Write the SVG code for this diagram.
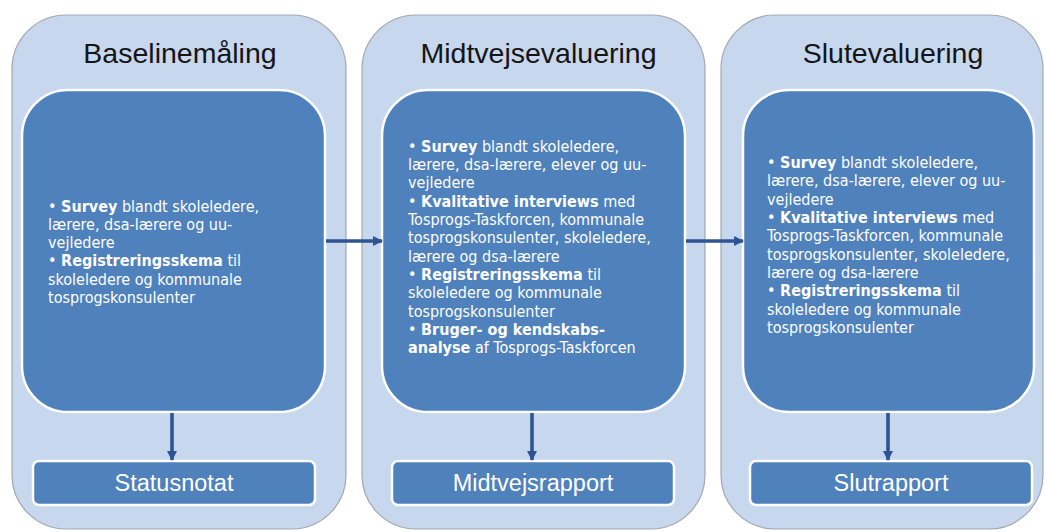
<svg xmlns="http://www.w3.org/2000/svg" width="1046" height="532" viewBox="0 0 1046 532">
<defs>
<style>
.outer{fill:#c6d7ee;stroke:#a3a8b0;stroke-width:1.2}
.inner{fill:#4f81bd;stroke:#ffffff;stroke-width:2.5}
.out{fill:#4f81bd;stroke:#ffffff;stroke-width:2.5}
.title{font-family:"Liberation Sans",Arial,sans-serif;font-size:28.5px;fill:#151515;text-anchor:middle}
.body{font-family:"DejaVu Sans Condensed","DejaVu Sans",sans-serif;font-size:16px;fill:#ffffff}
.body tspan.b{font-weight:bold}
.res{font-family:"Liberation Sans",Arial,sans-serif;font-size:23.5px;fill:#ffffff;text-anchor:middle}
.conn{stroke:#2f5491;stroke-width:3.6;fill:none}
</style>
<marker id="ah" viewBox="0 0 10 10" refX="9" refY="5" markerWidth="2.8" markerHeight="2.8" orient="auto" markerUnits="strokeWidth">
<path d="M0,0 L10,5 L0,10 z" fill="#2f5491"/>
</marker>
</defs>

<g id="col1">
<rect class="outer" x="12" y="15" width="334" height="514" rx="54" ry="54"/>
<text class="title" x="180" y="63">Baselinemåling</text>
</g>
<g id="col2">
<rect class="outer" x="362" y="15" width="343" height="514" rx="54" ry="54"/>
<text class="title" x="538.5" y="63">Midtvejsevaluering</text>
</g>
<g id="col3">
<rect class="outer" x="721" y="15" width="322" height="514" rx="54" ry="54"/>
<text class="title" x="893" y="63">Slutevaluering</text>
</g>

<g id="activities1">
<rect class="inner" x="22" y="90" width="303" height="322" rx="46" ry="46"/>
<text class="body" x="48" y="211.5"><tspan x="48">• <tspan class="b">Survey</tspan> blandt skoleledere,</tspan><tspan x="48" dy="18.3">lærere, dsa-lærere og uu-</tspan><tspan x="48" dy="18.3">vejledere</tspan><tspan x="48" dy="18.3">• <tspan class="b">Registreringsskema</tspan> til</tspan><tspan x="48" dy="18.3">skoleledere og kommunale</tspan><tspan x="48" dy="18.3">tosprogskonsulenter</tspan></text>
</g>

<g id="activities2">
<rect class="inner" x="382" y="90" width="303" height="322" rx="46" ry="46"/>
<text class="body" x="408" y="151.5"><tspan x="408">• <tspan class="b">Survey</tspan> blandt skoleledere,</tspan><tspan x="408" dy="18.35">lærere, dsa-lærere, elever og uu-</tspan><tspan x="408" dy="18.35">vejledere</tspan><tspan x="408" dy="18.35">• <tspan class="b">Kvalitative interviews</tspan> med</tspan><tspan x="408" dy="18.35">Tosprogs-Taskforcen, kommunale</tspan><tspan x="408" dy="18.35">tosprogskonsulenter, skoleledere,</tspan><tspan x="408" dy="18.35">lærere og dsa-lærere</tspan><tspan x="408" dy="18.35">• <tspan class="b">Registreringsskema</tspan> til</tspan><tspan x="408" dy="18.35">skoleledere og kommunale</tspan><tspan x="408" dy="18.35">tosprogskonsulenter</tspan><tspan x="408" dy="18.35">• <tspan class="b">Bruger- og kendskabs-</tspan></tspan><tspan x="408" dy="18.35"><tspan class="b">analyse</tspan> af Tosprogs-Taskforcen</tspan></text>
</g>

<g id="activities3">
<rect class="inner" x="743" y="90" width="291" height="322" rx="46" ry="46"/>
<text class="body" x="767" y="168"><tspan x="767">• <tspan class="b">Survey</tspan> blandt skoleledere,</tspan><tspan x="767" dy="18.35">lærere, dsa-lærere, elever og uu-</tspan><tspan x="767" dy="18.35">vejledere</tspan><tspan x="767" dy="18.35">• <tspan class="b">Kvalitative interviews</tspan> med</tspan><tspan x="767" dy="18.35">Tosprogs-Taskforcen, kommunale</tspan><tspan x="767" dy="18.35">tosprogskonsulenter, skoleledere,</tspan><tspan x="767" dy="18.35">lærere og dsa-lærere</tspan><tspan x="767" dy="18.35">• <tspan class="b">Registreringsskema</tspan> til</tspan><tspan x="767" dy="18.35">skoleledere og kommunale</tspan><tspan x="767" dy="18.35">tosprogskonsulenter</tspan></text>
</g>

<g id="statusnotat">
<rect class="out" x="33" y="461" width="282" height="44" rx="6" ry="6"/>
<text class="res" x="174" y="491">Statusnotat</text>
</g>
<g id="midtvejsrapport">
<rect class="out" x="392" y="461" width="282" height="44" rx="6" ry="6"/>
<text class="res" x="533" y="491">Midtvejsrapport</text>
</g>
<g id="slutrapport">
<rect class="out" x="750" y="461" width="282" height="44" rx="6" ry="6"/>
<text class="res" x="891" y="491">Slutrapport</text>
</g>

<g id="connectors">
<line class="conn" x1="326" y1="241" x2="382" y2="241" marker-end="url(#ah)"/>
<line class="conn" x1="686" y1="241" x2="743" y2="241" marker-end="url(#ah)"/>
<line class="conn" x1="172" y1="413" x2="172" y2="460" marker-end="url(#ah)"/>
<line class="conn" x1="532" y1="413" x2="532" y2="460" marker-end="url(#ah)"/>
<line class="conn" x1="888" y1="413" x2="888" y2="460" marker-end="url(#ah)"/>
</g>
</svg>
